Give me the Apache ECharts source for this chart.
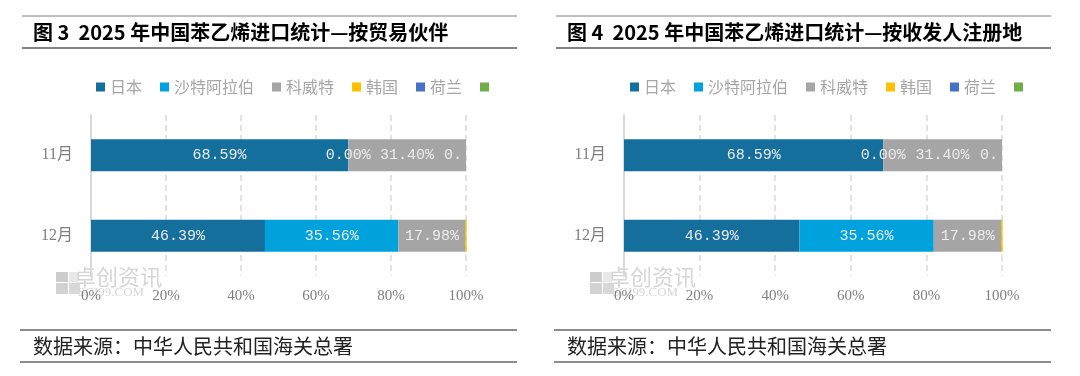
<!DOCTYPE html>
<html>
<head>
<meta charset="utf-8">
<script src="https://cdn.jsdelivr.net/npm/echarts@6/dist/echarts.min.js"></script>
<style>
    html, body { margin: 0; padding: 0; background: #fff; }
    .panel { position: absolute; top: 0; width: 540px; height: 376px; }
</style>
</head>
<body>
<div id="fig3" class="panel" style="left:0"></div>
<div id="fig4" class="panel" style="left:540px"></div>
<script>
// 月份
var months = ['11月', '12月'];
// 图例 (最后一项原图没有名字)
var partners = ['日本', '沙特阿拉伯', '科威特', '韩国', '荷兰', ' '];
// 各国进口占比 %，依次为 11月、12月
var japan = [68.59, 46.39];
var saudi = [0.00, 35.56];
var kuwait = [31.40, 17.98];
var korea = [0.00, 0.07];
var netherlands = [0, 0];
var others = [0, 0];

(function() {
    'use strict';

    var colors = ['#156f9c', '#00a2dd', '#a5a5a5', '#ffc000', '#4472c4', '#70ad47'];
    var serif = "'Liberation Serif', 'Noto Sans CJK SC', serif";
    var mono = "'Liberation Mono', monospace";
    var cjk = "'Noto Sans CJK SC', sans-serif";

    function pct(p) {
        return p.value.toFixed(2) + '%';
    }

    // 一个面板：标题 + 堆积条形图 + 数据来源
    function shareChart(id, title, box) {
        var dx = box.dx;
        var values = [japan, saudi, kuwait, korea, netherlands, others];

        var series = partners.map(function(name, i) {
            return {
                name: name,
                type: 'bar',
                stack: 'share',
                barWidth: 32,
                color: colors[i],
                emphasis: { disabled: true },
                label: {
                    show: false,
                    position: 'inside',
                    formatter: pct,
                    color: '#ececec',
                    fontFamily: mono,
                    fontSize: 15
                },
                data: values[i].map(function(v) {
                    var item = { value: v };
                    // 很小的值也画出一条细线
                    if (v > 0 && v < 1) {
                        item.itemStyle = { borderColor: colors[i], borderWidth: 1 };
                    }
                    if (i < 3) {
                        item.label = { show: true };
                    } else if (i === 3 && v === 0) {
                        // 落在图表右边缘，被截断
                        item.label = {
                            show: true,
                            position: 'insideLeft',
                            distance: 0,
                            offset: [-22, 0],
                            width: 27,
                            overflow: 'truncate',
                            ellipsis: '',
                            align: 'left'
                        };
                    }
                    return item;
                })
            };
        });

        var line = function(x1, x2, y, color, w) {
            return {
                type: 'line', silent: true,
                shape: { x1: x1 + dx, y1: y, x2: x2 + dx, y2: y },
                style: { stroke: color, lineWidth: w }
            };
        };

        var option = {
            backgroundColor: '#fff',
            animation: false,
            textStyle: { fontFamily: cjk },
            title: {
                text: title,
                left: 33 + dx,
                top: 22,
                padding: 0,
                textStyle: { fontSize: 20, fontWeight: 'bold', color: '#000', fontFamily: cjk }
            },
            legend: {
                left: 96 + dx,
                top: 79,
                padding: 0,
                icon: 'rect',
                itemWidth: 9,
                itemHeight: 9,
                itemGap: 18,
                textStyle: { fontSize: 16, color: '#a6a6a6', fontFamily: cjk },
                data: partners
            },
            grid: {
                left: box.gridLeft,
                width: box.gridWidth,
                top: 115,
                bottom: 100
            },
            xAxis: {
                type: 'value',
                min: 0,
                max: 100,
                interval: 20,
                axisLine: { show: false },
                axisTick: { show: false },
                axisLabel: {
                    formatter: '{value}%',
                    color: '#7f7f7f',
                    fontFamily: serif,
                    fontSize: 15,
                    margin: 13
                },
                splitLine: {
                    lineStyle: { color: '#d9d9d9', type: [6, 4], width: 1.5 }
                }
            },
            yAxis: {
                type: 'category',
                inverse: true,
                data: months,
                axisLine: { lineStyle: { color: '#d9d9d9', width: 2 } },
                axisTick: { show: false },
                axisLabel: {
                    color: '#7f7f7f',
                    fontFamily: serif,
                    fontSize: 16,
                    margin: 18
                }
            },
            graphic: [
                line(22, 517, 16, '#7f7f7f', 1),
                line(22, 517, 48, '#595959', 1.5),
                line(20, 517, 330, '#8c8c8c', 2),
                line(20, 517, 362, '#1a1a1a', 1),
                {
                    type: 'text', silent: true,
                    left: 33 + dx, top: 336,
                    style: { text: '数据来源：中华人民共和国海关总署', font: '20px ' + cjk, fill: '#222' }
                },
                // 水印
                {
                    type: 'group', silent: true, left: 56 + dx, top: 266, z: 0,
                    children: [
                        { type: 'rect', shape: { x: 0, y: 6, width: 12, height: 10 }, style: { fill: '#cccccc' } },
                        { type: 'rect', shape: { x: 13, y: 6, width: 9, height: 10 }, style: { fill: '#e8e8e8' } },
                        { type: 'rect', shape: { x: 0, y: 17, width: 12, height: 11 }, style: { fill: '#d2d2d2' } },
                        { type: 'rect', shape: { x: 13, y: 17, width: 11, height: 11 }, style: { fill: '#d8d8d8' } },
                        { type: 'text', x: 18, y: 0, style: { text: '卓创资讯', font: '22px ' + cjk, fill: '#d6d6d6' } },
                        { type: 'text', x: 22, y: 20, style: { text: 'SCI99.COM', font: '13px ' + serif, fill: '#d6d6d6' } }
                    ]
                }
            ],
            series: series
        };

        var myChart = echarts.init(document.getElementById(id));
        myChart.setOption(option);
    }

    shareChart('fig3', '图 3  2025 年中国苯乙烯进口统计—按贸易伙伴',
        { dx: 0, gridLeft: 91, gridWidth: 375 });
    shareChart('fig4', '图 4  2025 年中国苯乙烯进口统计—按收发人注册地',
        { dx: -6, gridLeft: 84, gridWidth: 378 });
})();
</script>
</body>
</html>
